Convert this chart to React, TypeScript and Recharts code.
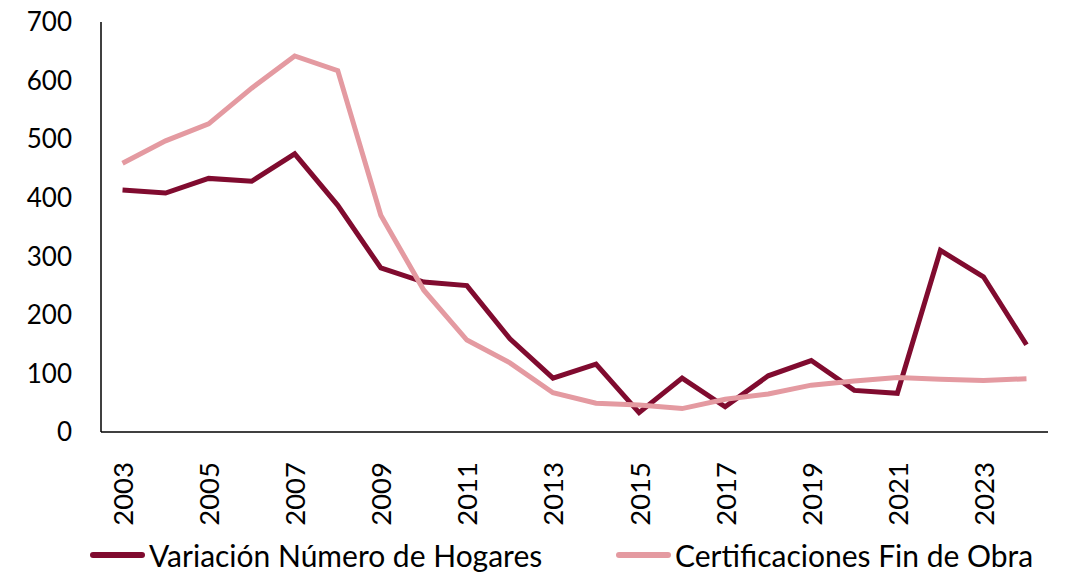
import { Legend, Line, LineChart, XAxis, YAxis } from "recharts";

const years = [
  "2003", "2004", "2005", "2006", "2007", "2008", "2009", "2010", "2011", "2012", "2013",
  "2014", "2015", "2016", "2017", "2018", "2019", "2020", "2021", "2022", "2023", "2024",
];
const hogares = [
  413, 408, 433, 428, 475, 387, 280, 256, 250, 159, 92,
  116, 33, 92, 43, 96, 122, 71, 66, 310, 265, 149,
];
const certificaciones = [
  459, 497, 526, 587, 642, 617, 370, 242, 157, 118, 67,
  49, 46, 40, 56, 65, 80, 87, 93, 90, 88, 91,
];
const yTicks = [0, 100, 200, 300, 400, 500, 600, 700];

const SERIES_A = "Variación Número de Hogares";
const SERIES_B = "Certificaciones Fin de Obra";
const DARK = "#800B2F";
const LIGHT = "#E49AA1";
const FONT = "'Gill Sans MT', 'Gill Sans', Lato, sans-serif";

const data = years.map((year, i) => ({
  year,
  a: hogares[i],
  b: certificaciones[i],
}));

// rotated year labels, read bottom-to-top like the original
function YearTick({ x, y, payload }: any) {
  return (
    <text
      x={0}
      y={0}
      transform={`translate(${x},${y + 22}) rotate(-90)`}
      textAnchor="end"
      dominantBaseline="central"
      fill="#000"
      fontSize={27.5}
      fontFamily={FONT}
    >
      {payload.value}
    </text>
  );
}

function ChartLegend() {
  const items = [
    { name: SERIES_A, color: DARK, width: 526 },
    { name: SERIES_B, color: LIGHT, width: 430 },
  ];
  return (
    <div
      style={{
        height: 44,
        display: "flex",
        alignItems: "center",
        paddingLeft: 90,
        paddingTop: 10,
        boxSizing: "border-box",
        fontFamily: FONT,
        fontSize: 30,
        lineHeight: "34px",
        color: "#000",
        whiteSpace: "nowrap",
      }}
    >
      {items.map((it) => (
        <span key={it.name} style={{ display: "flex", alignItems: "center", width: it.width }}>
          <span
            style={{
              display: "inline-block",
              width: 55,
              height: 6,
              borderRadius: 3,
              background: it.color,
              marginRight: 4,
            }}
          />
          {it.name}
        </span>
      ))}
    </div>
  );
}

export default function App() {
  return (
    <div
      style={{
        position: "absolute",
        left: 0,
        top: 0,
        width: 1071,
        height: 572,
        overflow: "hidden",
        background: "#fff",
      }}
    >
      <LineChart width={1071} height={572} data={data} margin={{ top: 22, right: 23, bottom: 0, left: 0 }}>
        <XAxis
          dataKey="year"
          scale="band"
          interval={1}
          height={96}
          tickLine={false}
          axisLine={{ stroke: "#000", strokeWidth: 1.5 }}
          tick={<YearTick />}
        />
        <YAxis
          domain={[0, 700]}
          ticks={yTicks}
          width={101}
          tickLine={false}
          tickSize={0}
          tickMargin={29}
          axisLine={{ stroke: "#000", strokeWidth: 1.5 }}
          tick={{ fill: "#000", fontSize: 26, fontFamily: FONT }}
        />
        <Legend
          verticalAlign="bottom"
          height={44}
          wrapperStyle={{ bottom: 0, left: 0, width: 1071 }}
          content={() => <ChartLegend />}
        />
        <Line
          type="linear"
          dataKey="a"
          name={SERIES_A}
          stroke={DARK}
          strokeWidth={5}
          dot={false}
          isAnimationActive={false}
        />
        <Line
          type="linear"
          dataKey="b"
          name={SERIES_B}
          stroke={LIGHT}
          strokeWidth={5}
          dot={false}
          isAnimationActive={false}
        />
      </LineChart>
    </div>
  );
}
